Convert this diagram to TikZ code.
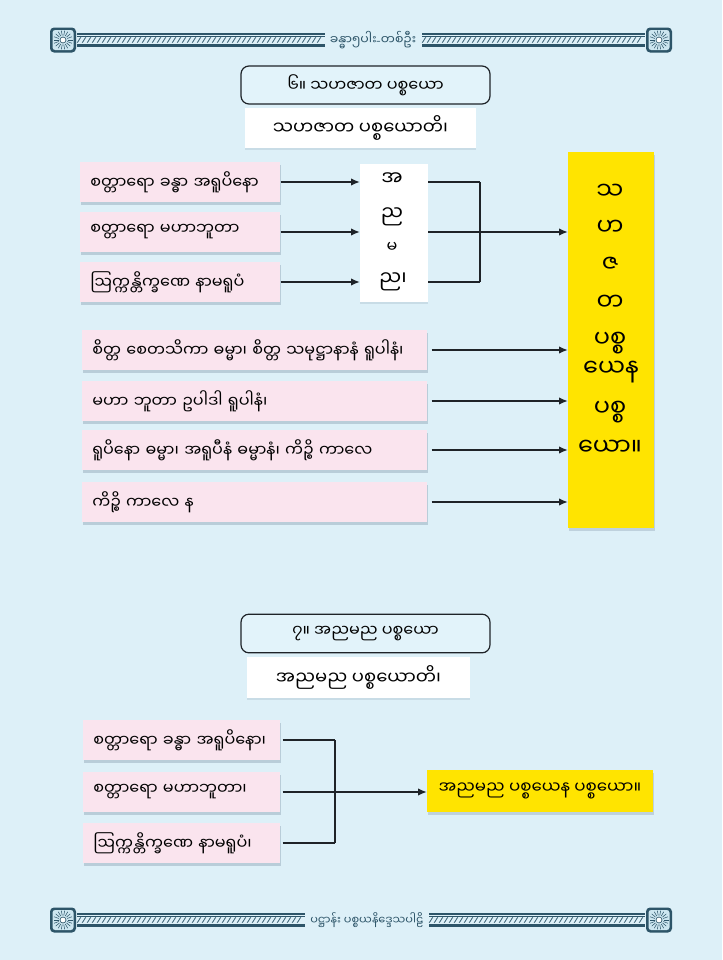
\documentclass[tikz,border=0pt]{standalone}
\usepackage{fontspec}
\newfontfamily\mya[Script=Myanmar]{Noto Sans Myanmar UI}
\usetikzlibrary{arrows.meta,shadows}
\definecolor{bg}{RGB}{221,240,248}
\definecolor{titlefill}{RGB}{226,243,250}
\definecolor{pinkc}{RGB}{250,228,238}
\definecolor{shadowc}{RGB}{120,140,160}
\definecolor{yellowc}{RGB}{255,228,0}
\definecolor{linec}{RGB}{30,35,40}
\definecolor{bandc}{RGB}{45,85,105}
\definecolor{medlight}{RGB}{205,230,240}
\newcommand\myband[3]{%
  \draw[bandc,line width=1pt] (#1,#3-6) -- (#2,#3-6);
  \draw[bandc,line width=0.4pt] (#1,#3-4) -- (#2,#3-4);
  \draw[bandc,line width=0.4pt] (#1,#3+4) -- (#2,#3+4);
  \draw[bandc,line width=1pt] (#1,#3+6) -- (#2,#3+6);
  \pgfmathtruncatemacro\bandend{#2-4}
  \pgfmathtruncatemacro\bandsec{#1+5}
  \foreach \i in {#1,\bandsec,...,\bandend}{%
    \draw[bandc,line width=0.55pt] (\i,#3+2.5) .. controls (\i+1.5,#3+2.5) and (\i+2.5,#3-2.5) .. (\i+4,#3-2.5);}
}
\newcommand\mymedal[2]{%
  \fill[bandc,rounded corners=3pt] (#1-13,#2-12.5) rectangle (#1+13,#2+12.5);
  \fill[medlight,rounded corners=2pt] (#1-10.5,#2-10) rectangle (#1+10.5,#2+10);
  \foreach \a in {0,20,...,340}{\draw[bandc,line width=0.4pt] (#1,#2) ++(\a:4.5) -- ++(\a:5);}
  \draw[bandc,fill=white,line width=0.5pt] (#1,#2) circle (3);
}
\begin{document}
\begin{tikzpicture}[x=0.75pt,y=-0.75pt,
  font=\mya\fontsize{12}{14}\selectfont,
  pinkbox/.style={fill=pinkc, drop shadow={shadow xshift=0.3pt,shadow yshift=-2.5pt,opacity=0.35,fill=shadowc},
    minimum height=30pt, inner xsep=7.5pt, inner ysep=0pt, anchor=west, align=left},
  whitebox/.style={fill=white, drop shadow={shadow xshift=0.3pt,shadow yshift=-1.5pt,opacity=0.2,fill=shadowc}, inner sep=0pt},
  subtxt/.style={font=\mya\fontsize{13.5}{15}\selectfont},
  titlebox/.style={fill=titlefill, draw=linec, line width=0.9pt, rounded corners=6pt, inner sep=0pt},
  yellowbox/.style={fill=yellowc, drop shadow={shadow xshift=0.5pt,shadow yshift=-2pt,opacity=0.3,fill=shadowc}, inner sep=0pt},
  arr/.style={draw=linec, line width=0.9pt, -{Latex[length=6.5pt,width=5.5pt]}},
  ln/.style={draw=linec, line width=0.9pt},
  vtxt/.style={font=\mya\fontsize{18}{20}\selectfont, inner sep=0pt},
  mtxt/.style={font=\mya\fontsize{15}{17}\selectfont, inner sep=0pt},
  htxt/.style={font=\mya\fontsize{9.4}{11}\selectfont, text=bandc, inner sep=0pt}]
\fill[bg] (0,0) rectangle (722,960);
\useasboundingbox (0,0) rectangle (722,960);

% header
\mymedal{63}{40}
\mymedal{659}{40}
\myband{77}{325}{40}
\myband{422}{645}{40}
\node[htxt] (head) at (373,40) {ခန္ဓာ၅ပါး{\normalfont -}တစ်ဦး};
% footer
\mymedal{63}{920}
\mymedal{659}{920}
\myband{77}{305}{920}
\myband{429}{645}{920}
\node[htxt, font=\mya\fontsize{8.5}{10}\selectfont] (foot) at (367,920) {ပဋ္ဌာန်း ပစ္စယနိဒ္ဒေသပါဠိ};

% section 1
\node[titlebox, minimum width=186.75pt, minimum height=28.5pt] (t1) at (365.5,85) {၆။ သဟဇာတ ပစ္စယော};
\node[whitebox, subtxt, minimum width=173.25pt, minimum height=30pt] (s1) at (360.5,128) {သဟဇာတ ပစ္စယောတိ၊};

\node[pinkbox, text width=135pt] (b1) at (80,182) {စတ္တာရော ခန္ဓာ အရူပိနော};
\node[pinkbox, text width=135pt] (b2) at (80,232) {စတ္တာရော မဟာဘူတာ};
\node[pinkbox, text width=135pt] (b3) at (80,282) {ဩက္ကန္တိက္ခဏေ နာမရူပံ};

\node[whitebox, minimum width=51pt, minimum height=103.5pt] (mid) at (394,233) {};
\node[mtxt] (m1) at (392,179) {အ};
\node[mtxt] (m2) at (392,217) {ည};
\node[mtxt, font=\mya\fontsize{12}{14}\selectfont] (m3) at (392,247) {မ};
\node[mtxt] (m4) at (393,282) {ည၊};

\node[yellowbox, minimum width=64.5pt, minimum height=282pt] (y1) at (611,340) {};
\node[vtxt] (v1) at (610,192) {သ};
\node[vtxt] (v2) at (610,228) {ဟ};
\node[vtxt] (v3) at (610,265) {ဇ};
\node[vtxt] (v4) at (610,303) {တ};
\node[vtxt] (v5) at (610,343) {ပစ္စ};
\node[vtxt] (v6) at (611,372) {ယေန};
\node[vtxt] (v7) at (610,412) {ပစ္စ};
\node[vtxt] (v8) at (610,448) {ယော။};

\node[pinkbox, text width=243.75pt] (b4) at (82,350) {စိတ္တ စေတသိကာ ဓမ္မာ၊ စိတ္တ သမုဋ္ဌာနာနံ ရူပါနံ၊};
\node[pinkbox, text width=243.75pt] (b5) at (82,401) {မဟာ ဘူတာ ဥပါဒါ ရူပါနံ၊};
\node[pinkbox, text width=243.75pt] (b6) at (82,450) {ရူပိနော ဓမ္မာ၊ အရူပီနံ ဓမ္မာနံ၊ ကိဉ္စိ ကာလေ};
\node[pinkbox, text width=243.75pt] (b7) at (82,502) {ကိဉ္စိ ကာလေ န};

\coordinate (j1) at (480,182);
\coordinate (j2) at (480,232);
\coordinate (j3) at (480,282);

\foreach \b in {b1,b2,b3}{\draw[arr] (\b.east) -- (\b.east -| mid.west);}
\foreach \b/\j in {b1/j1,b2/j2,b3/j3}{\draw[ln] (mid.east |- \b.east) -- (\j);}
\draw[ln] (j1) -- (j3);
\draw[arr] (j2) -- (j2 -| y1.west);
\foreach \b in {b4,b5,b6,b7}{\draw[arr, shorten <=3pt] (\b.east) -- (\b.east -| y1.west);}

% section 2
\node[titlebox, minimum width=186.75pt, minimum height=29pt] (t2) at (365.5,633.5) {၇။ အညမည ပစ္စယော};
\node[whitebox, subtxt, minimum width=167.25pt, minimum height=30.75pt] (s2) at (358.5,677.5) {အညမည ပစ္စယောတိ၊};

\node[pinkbox, text width=132.75pt] (c1) at (83,740) {စတ္တာရော ခန္ဓာ အရူပိနော၊};
\node[pinkbox, text width=132.75pt] (c2) at (83,792) {စတ္တာရော မဟာဘူတာ၊};
\node[pinkbox, text width=132.75pt] (c3) at (83,843) {ဩက္ကန္တိက္ခဏေ နာမရူပံ၊};

\node[yellowbox, font=\mya\fontsize{12.5}{14}\selectfont, minimum width=169.5pt, minimum height=31.5pt] (y2) at (540,791) {အညမည ပစ္စယေန ပစ္စယော။};

\coordinate (k1) at (335,740);
\coordinate (k2) at (335,792);
\coordinate (k3) at (335,843);
\foreach \c/\k in {c1/k1,c2/k2,c3/k3}{\draw[ln, shorten <=1.5pt] (\c.east) -- (\k);}
\draw[ln] (k1) -- (k3);
\draw[arr] (k2) -- (k2 -| y2.west);
\end{tikzpicture}
\end{document}
